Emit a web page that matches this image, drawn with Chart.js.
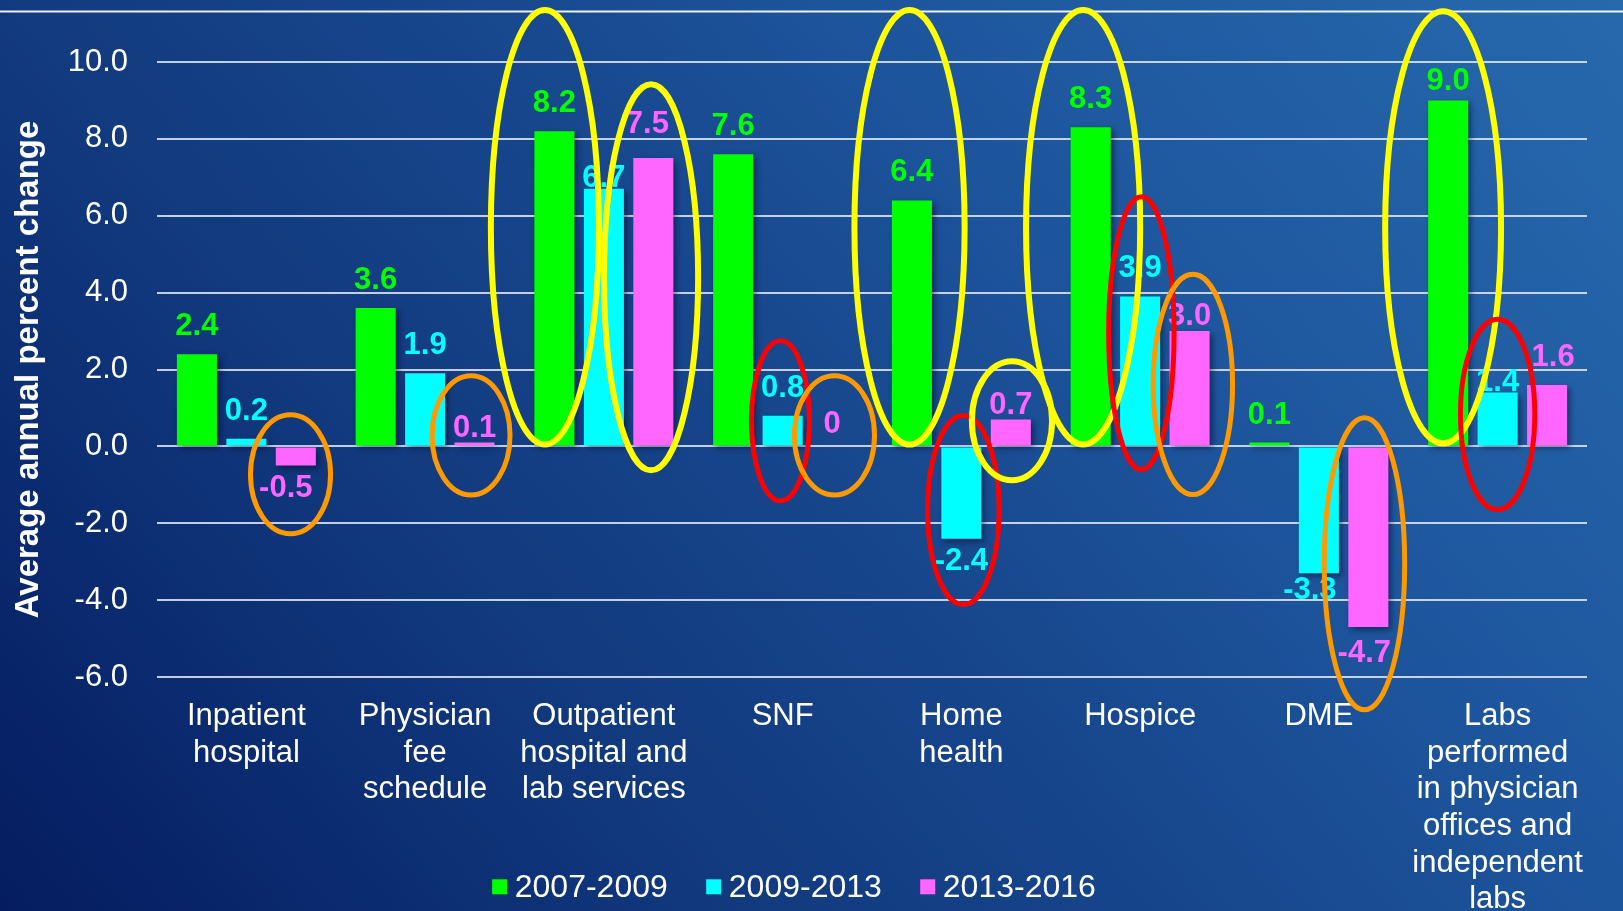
<!DOCTYPE html>
<html>
<head>
<meta charset="utf-8">
<title>Average annual percent change by sector</title>
<script src="https://cdn.jsdelivr.net/npm/chart.js@4.4.1/dist/chart.umd.min.js"></script>
<style>
  html, body {
    margin: 0;
    padding: 0;
    width: 1623px;
    height: 911px;
    overflow: hidden;
    background: linear-gradient(50deg, #051c60 0%, #0d2f74 20%, #123a7f 32%, #17468c 50%, #1d559d 68%, #2769ad 100%);
  }
  #wrap { position: relative; width: 1623px; height: 911px; }
  canvas { display: block; }
</style>
</head>
<body>
<div id="wrap"><canvas id="chart" width="1623" height="911"></canvas></div>
<script>
// ---- data ----
const categories = [
  ['Inpatient', 'hospital'],
  ['Physician', 'fee', 'schedule'],
  ['Outpatient', 'hospital and', 'lab services'],
  'SNF',
  ['Home', 'health'],
  'Hospice',
  'DME',
  ['Labs', 'performed', 'in physician', 'offices and', 'independent', 'labs']
];
const seriesNames = ['2007-2009', '2009-2013', '2013-2016'];
const values2007to2009 = [2.4, 3.6, 8.2, 7.6, 6.4, 8.3, 0.1, 9.0];
const values2009to2013 = [0.2, 1.9, 6.7, 0.8, -2.4, 3.9, -3.3, 1.4];
const values2013to2016 = [-0.5, 0.1, 7.5, 0, 0.7, 3.0, -4.7, 1.6];
const yTickValues = [10, 8, 6, 4, 2, 0, -2, -4, -6];
const axisTitle = 'Average annual percent change';

// ---- styling ----
const FONT = '"Liberation Sans", Arial, Helvetica, sans-serif';
const seriesColors = ['#00ff00', '#00ffff', '#ff66ff'];
const ringStyles = {
  yellow: { color: '#ffff00', width: 6 },
  orange: { color: '#ff9900', width: 5 },
  red:    { color: '#ff0000', width: 5 }
};

// Highlight rings: category index, horizontal shift and half-width in
// category widths, vertical extent in axis units.
const highlights = [
  { cat: 0, shift: 0.247,  half: 0.238, top: 0.885, bottom: -2.34, ring: 'orange' },
  { cat: 1, shift: 0.257,  half: 0.232, top: 1.9,   bottom: -1.33, ring: 'orange' },
  { cat: 2, shift: -0.33,  half: 0.319, top: 11.43, bottom: -0.03, ring: 'yellow' },
  { cat: 2, shift: 0.264,  half: 0.28,  top: 9.5,   bottom: -0.70, ring: 'yellow' },
  { cat: 3, shift: -0.012, half: 0.176, top: 2.81,  bottom: -1.48, ring: 'red' },
  { cat: 3, shift: 0.29,   half: 0.238, top: 1.9,   bottom: -1.33, ring: 'orange' },
  { cat: 4, shift: -0.29,  half: 0.325, top: 11.43, bottom: -0.03, ring: 'yellow' },
  { cat: 4, shift: 0.011,  half: 0.214, top: 0.87,  bottom: -4.18, ring: 'red' },
  { cat: 4, shift: 0.283,  half: 0.241, top: 2.29,  bottom: -0.96, ring: 'yellow' },
  { cat: 5, shift: -0.319, half: 0.336, top: 11.43, bottom: -0.03, ring: 'yellow' },
  { cat: 5, shift: 0.007,  half: 0.197, top: 6.56,  bottom: -0.67, ring: 'red' },
  { cat: 5, shift: 0.295,  half: 0.236, top: 4.54,  bottom: -1.32, ring: 'orange' },
  { cat: 6, shift: 0.255,  half: 0.239, top: 0.81,  bottom: -6.92, ring: 'orange' },
  { cat: 7, shift: -0.305, half: 0.341, top: 11.4,  bottom: 0.0,   ring: 'yellow' },
  { cat: 7, shift: 0.0,    half: 0.222, top: 3.37,  bottom: -1.71, ring: 'red' }
];

// Small offsets (px) for value labels that sit off their default spot,
// keyed "category-series".
const labelNudge = {
  '2-1': [0, 17], '2-2': [-6, -6], '1-2': [0, 13], '3-2': [0, 6],
  '4-2': [0, 14], '5-2': [0, 13], '7-0': [0, 9], '7-1': [0, 17],
  '7-2': [6, 0], '0-2': [-10, 0], '6-1': [-9, -5], '6-2': [-4, 4]
};

function formatValue(v) {
  return v === 0 ? '0' : v.toFixed(1);
}

function drawValueLabels(chart) {
  const ctx = chart.ctx;
  ctx.save();
  ctx.font = 'bold 31px ' + FONT;
  ctx.textAlign = 'center';
  ctx.textBaseline = 'alphabetic';
  chart.data.datasets.forEach((ds, di) => {
    const meta = chart.getDatasetMeta(di);
    meta.data.forEach((bar, i) => {
      const v = ds.data[i];
      const n = labelNudge[i + '-' + di] || [0, 0];
      const y = v >= 0 ? bar.y - 19 : bar.y + 31;
      ctx.fillStyle = ds.backgroundColor;
      ctx.fillText(formatValue(v), bar.x + n[0], y + n[1]);
    });
  });
  ctx.restore();
}

function drawHighlights(chart) {
  const ctx = chart.ctx;
  const xs = chart.scales.x, ys = chart.scales.y;
  const catW = xs.width / categories.length;
  ctx.save();
  highlights.forEach(h => {
    const st = ringStyles[h.ring];
    const cx = xs.getPixelForValue(h.cat) + h.shift * catW;
    const yt = ys.getPixelForValue(h.top);
    const yb = ys.getPixelForValue(h.bottom);
    const rx = h.half * catW - st.width / 2;
    const ry = (yb - yt) / 2 - st.width / 2;
    ctx.beginPath();
    ctx.ellipse(cx, (yt + yb) / 2, rx, ry, 0, 0, Math.PI * 2);
    ctx.strokeStyle = st.color;
    ctx.lineWidth = st.width;
    ctx.stroke();
  });
  ctx.restore();
}

function drawLegend(chart) {
  const ctx = chart.ctx;
  const box = 15, gap = 7.6, spacing = 38.4;
  const centerX = 794, baseline = 896.7;
  ctx.save();
  ctx.font = '32px ' + FONT;
  ctx.textBaseline = 'alphabetic';
  ctx.textAlign = 'left';
  const items = chart.data.datasets.map(ds => ({
    label: ds.label, color: ds.backgroundColor,
    w: box + gap + ctx.measureText(ds.label).width
  }));
  const total = items.reduce((s, it) => s + it.w, 0) + spacing * (items.length - 1);
  let x = centerX - total / 2;
  items.forEach(it => {
    ctx.fillStyle = it.color;
    ctx.fillRect(x, baseline - 17.4, box, box);
    ctx.fillStyle = '#ffffff';
    ctx.fillText(it.label, x + box + gap, baseline);
    x += it.w + spacing;
  });
  ctx.restore();
}

const slideDecor = {
  id: 'slideDecor',
  beforeDraw(chart) {
    const ctx = chart.ctx;
    ctx.save();
    ctx.fillStyle = 'rgba(255,255,255,0.92)';
    ctx.fillRect(0, 10.5, chart.width, 2);
    ctx.restore();
  },
  beforeDatasetsDraw(chart) {
    const ctx = chart.ctx;
    ctx.save();
    ctx.shadowColor = 'rgba(0,0,25,0.45)';
    ctx.shadowBlur = 6;
    ctx.shadowOffsetX = 3;
    ctx.shadowOffsetY = 3;
  },
  afterDatasetsDraw(chart) {
    chart.ctx.restore();
    drawValueLabels(chart);
    drawHighlights(chart);
    drawLegend(chart);
  }
};

const seriesValues = [values2007to2009, values2009to2013, values2013to2016];

new Chart(document.getElementById('chart'), {
  type: 'bar',
  data: {
    labels: categories,
    datasets: seriesNames.map((name, i) => ({
      label: name,
      data: seriesValues[i],
      backgroundColor: seriesColors[i],
      borderWidth: 0,
      categoryPercentage: 0.83,
      barPercentage: 0.81
    }))
  },
  options: {
    responsive: false,
    animation: false,
    devicePixelRatio: 1,
    layout: { padding: { top: 62, right: 36, bottom: 0, left: 0 } },
    plugins: { legend: { display: false }, tooltip: { enabled: false } },
    scales: {
      x: {
        grid: { display: false, drawTicks: false },
        border: { display: false },
        ticks: {
          color: '#ffffff',
          font: { size: 31, family: FONT, lineHeight: 1.184 },
          padding: 21,
          maxRotation: 0,
          autoSkip: false
        },
        afterFit(s) { s.height = 234; }
      },
      y: {
        min: Math.min(...yTickValues),
        max: Math.max(...yTickValues),
        grid: { color: 'rgba(228,233,243,0.85)', lineWidth: 2, drawTicks: false },
        border: { display: false },
        ticks: {
          stepSize: 2,
          color: '#ffffff',
          font: { size: 31, family: FONT },
          padding: 29,
          callback: v => Number(v).toFixed(1)
        },
        title: {
          display: true,
          text: axisTitle,
          color: '#ffffff',
          font: { size: 33, weight: 'bold', family: FONT },
          padding: { top: 9.5, bottom: 0 }
        },
        afterFit(s) { s.width = 157; }
      }
    }
  },
  plugins: [slideDecor]
});
</script>
</body>
</html>
